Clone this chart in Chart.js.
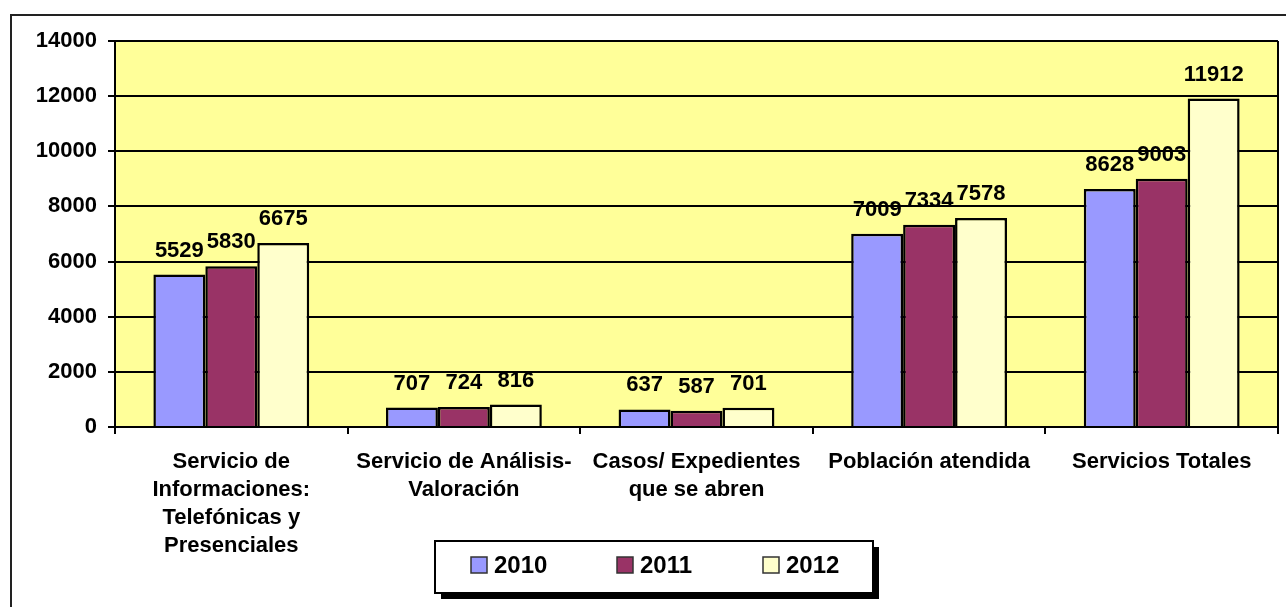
<!DOCTYPE html>
<html>
<head>
<meta charset="utf-8">
<script src="https://cdn.jsdelivr.net/npm/chart.js@4"></script>
<style>
  html, body { margin: 0; padding: 0; background: #fff; }
  #wrap { width: 1286px; height: 607px; }
</style>
</head>
<body>
<div id="wrap"><canvas id="servChart"></canvas></div>
<script>
// data
const categories = [
    ['Servicio de', 'Informaciones:', 'Telefónicas y', 'Presenciales'],
    ['Servicio de Análisis-', 'Valoración'],
    ['Casos/ Expedientes', 'que se abren'],
    ['Población atendida'],
    ['Servicios Totales']
];
const seriesNames = ['2010', '2011', '2012'];
const values2010 = [5529, 707, 637, 7009, 8628];
const values2011 = [5830, 724, 587, 7334, 9003];
const values2012 = [6675, 816, 701, 7578, 11912];
const yTicks = [0, 2000, 4000, 6000, 8000, 10000, 12000, 14000];
const seriesColors = ['#9999FF', '#993366', '#FFFFCC'];

const FONT = '"Liberation Sans", Arial, sans-serif';

// background, outer frame and plot fill
const framePlugin = {
    id: 'frame',
    beforeDraw(chart) {
        const c = chart.ctx;
        const a = chart.chartArea;
        c.save();
        c.fillStyle = '#fff';
        c.fillRect(0, 0, chart.width, chart.height);
        c.strokeStyle = '#222';
        c.lineWidth = 2;
        c.strokeRect(11, 15, chart.width + 20, chart.height + 20);
        c.fillStyle = '#FFFF99';
        c.fillRect(a.left, a.top, a.right - a.left, a.bottom - a.top);
        c.restore();
    },
    afterDraw(chart) {
        const c = chart.ctx;
        const a = chart.chartArea;
        c.save();
        c.strokeStyle = '#000';
        c.lineWidth = 2;
        c.beginPath();
        c.moveTo(a.right, a.top);
        c.lineTo(a.right, a.bottom);
        c.stroke();
        c.restore();
    }
};

// value labels over bars
const valueLabels = {
    id: 'valueLabels',
    afterDatasetsDraw(chart) {
        const c = chart.ctx;
        c.save();
        c.font = 'bold 22px ' + FONT;
        c.fillStyle = '#000';
        c.textAlign = 'center';
        c.textBaseline = 'alphabetic';
        chart.data.datasets.forEach((ds, i) => {
            chart.getDatasetMeta(i).data.forEach((bar, j) => {
                c.fillText(ds.data[j], bar.x, bar.y - 18);
            });
        });
        c.restore();
    }
};

// boxed legend with shadow, like the original
const boxLegend = {
    id: 'boxLegend',
    afterDraw(chart) {
        const c = chart.ctx;
        const w = 438, h = 52;
        const left = 435, top = 541;
        c.save();
        c.fillStyle = '#000';
        c.fillRect(left + 6, top + 6, w, h);
        c.fillStyle = '#fff';
        c.fillRect(left, top, w, h);
        c.strokeStyle = '#000';
        c.lineWidth = 2;
        c.strokeRect(left, top, w, h);
        c.font = 'bold 24px ' + FONT;
        c.textBaseline = 'middle';
        c.textAlign = 'left';
        const cy = top + 24;
        chart.data.datasets.forEach((ds, i) => {
            const x = left + 36 + i * 146;
            c.fillStyle = ds.backgroundColor;
            c.fillRect(x, cy - 8, 16, 16);
            c.strokeStyle = '#333';
            c.lineWidth = 1.5;
            c.strokeRect(x, cy - 8, 16, 16);
            c.fillStyle = '#000';
            c.fillText(ds.label, x + 23, cy + 1);
        });
        c.restore();
    }
};

const allValues = [values2010, values2011, values2012];

const ctx = document.getElementById('servChart').getContext('2d');
const servChart = new Chart(ctx, {
    type: 'bar',
    data: {
        labels: categories,
        datasets: seriesNames.map((name, i) => ({
            label: name,
            data: allValues[i],
            backgroundColor: seriesColors[i],
            borderColor: '#000',
            borderWidth: 2.5,
            categoryPercentage: 0.67,
            barPercentage: 1.0
        }))
    },
    options: {
        responsive: true,
        maintainAspectRatio: false,
        animation: false,
        layout: {
            padding: { top: 41, right: 8, left: 0, bottom: 0 }
        },
        plugins: {
            legend: { display: false },
            tooltip: { enabled: false }
        },
        scales: {
            x: {
                grid: {
                    offset: true,
                    drawOnChartArea: false,
                    drawTicks: true,
                    tickLength: 7,
                    color: '#000',
                    lineWidth: 2
                },
                border: { color: '#000', width: 2 },
                ticks: {
                    maxRotation: 0,
                    minRotation: 0,
                    autoSkip: false,
                    padding: 14,
                    color: '#000',
                    font: { family: FONT, size: 22, weight: 'bold', lineHeight: 1.27 }
                },
                afterFit(scale) { scale.height = 180; }
            },
            y: {
                min: 0,
                max: 14000,
                afterBuildTicks(scale) {
                    scale.ticks = yTicks.map(v => ({ value: v }));
                },
                grid: {
                    color: '#000',
                    lineWidth: 2,
                    tickLength: 7
                },
                border: { color: '#000', width: 2 },
                ticks: {
                    padding: 11,
                    color: '#000',
                    font: { family: FONT, size: 22, weight: 'bold' },
                    callback: v => String(v)
                },
                afterFit(scale) { scale.width = 115; }
            }
        }
    },
    plugins: [framePlugin, valueLabels, boxLegend]
});
</script>
</body>
</html>
